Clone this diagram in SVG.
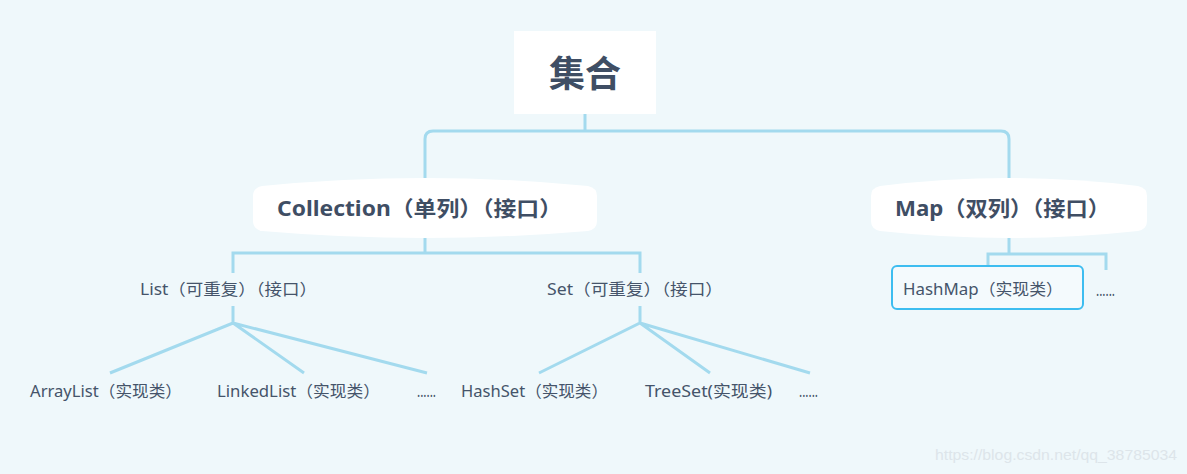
<svg xmlns="http://www.w3.org/2000/svg" width="1187" height="474" viewBox="0 0 1187 474">
<style>
.t{font-family:"Noto Sans","Noto Sans CJK SC",sans-serif;fill:#45546a;font-size:16px}
.b{font-family:"Noto Sans","Noto Sans CJK SC",sans-serif;fill:#3f4e64;font-weight:700}
.ln{fill:none;stroke:#a3daee;stroke-width:3;stroke-linecap:butt}
.pill{fill:#ffffff}
</style>
<rect width="1187" height="474" fill="#eff8fb"/>
<g id="connectors">
<path class="ln" d="M585,114 V131"/>
<path class="ln" d="M425,185 V139 Q425,131 433,131 H1001 Q1009,131 1009,139 V185"/>
<path class="ln" d="M425,236 V253"/>
<path class="ln" d="M233,273 V253 H640 V273"/>
<path class="ln" d="M233,306 V323 M110,373 L233,323 L304,373 M233,323 L427,373"/>
<path class="ln" d="M640,306 V323 M539,373 L640,323 L710,373 M640,323 L810,373"/>
<path class="ln" d="M1009,236 V254"/>
<path class="ln" d="M988,270 V254 H1106 V270"/>
</g>
<g id="root">
<rect x="514" y="31" width="142" height="83" fill="#ffffff"/>
<text class="b" x="585" y="87" font-size="36" text-anchor="middle">集合</text>
</g>
<g id="collection">
<path class="pill" d="M262,186 Q425,170 588,186 Q597,188 597,196 L597,221 Q597,229 588,231 Q425,245 262,231 Q253,229 253,221 L253,196 Q253,188 262,186 Z"/>
<text class="b" x="277" y="216" font-size="21" textLength="285" lengthAdjust="spacingAndGlyphs">Collection（单列）（接口）</text>
</g>
<g id="map">
<path class="pill" d="M880,186 Q1009,170 1138,186 Q1147,188 1147,196 L1147,221 Q1147,229 1138,231 Q1009,245 880,231 Q871,229 871,221 L871,196 Q871,188 880,186 Z"/>
<text class="b" x="895" y="216" font-size="21" textLength="215" lengthAdjust="spacingAndGlyphs">Map（双列）（接口）</text>
</g>
<g id="list">
<text class="t" x="140" y="295" textLength="177" lengthAdjust="spacingAndGlyphs">List（可重复）（接口）</text>
</g>
<g id="set">
<text class="t" x="547" y="295" textLength="176" lengthAdjust="spacingAndGlyphs">Set（可重复）（接口）</text>
</g>
<g id="arraylist">
<text class="t" x="30" y="397" textLength="152" lengthAdjust="spacingAndGlyphs">ArrayList（实现类）</text>
</g>
<g id="linkedlist">
<text class="t" x="217" y="397" textLength="163" lengthAdjust="spacingAndGlyphs">LinkedList（实现类）</text>
</g>
<g id="list-more">
<text class="t" x="417" y="397" textLength="19" lengthAdjust="spacingAndGlyphs">......</text>
</g>
<g id="hashset">
<text class="t" x="461" y="397" textLength="147" lengthAdjust="spacingAndGlyphs">HashSet（实现类）</text>
</g>
<g id="treeset">
<text class="t" x="645" y="397" textLength="127" lengthAdjust="spacingAndGlyphs">TreeSet(实现类)</text>
</g>
<g id="set-more">
<text class="t" x="799" y="397" textLength="19" lengthAdjust="spacingAndGlyphs">......</text>
</g>
<g id="hashmap">
<rect x="892" y="266" width="191" height="43" rx="5" fill="#f4fafd" stroke="#3dbdf0" stroke-width="2"/>
<text class="t" x="903" y="295" textLength="160" lengthAdjust="spacingAndGlyphs">HashMap（实现类）</text>
</g>
<g id="map-more">
<text class="t" x="1096" y="296" textLength="19" lengthAdjust="spacingAndGlyphs">......</text>
</g>
<text x="935" y="460" font-family="Liberation Sans,sans-serif" font-size="15" fill="#dde5ea" textLength="242" lengthAdjust="spacingAndGlyphs">https://blog.csdn.net/qq_38785034</text>
</svg>
